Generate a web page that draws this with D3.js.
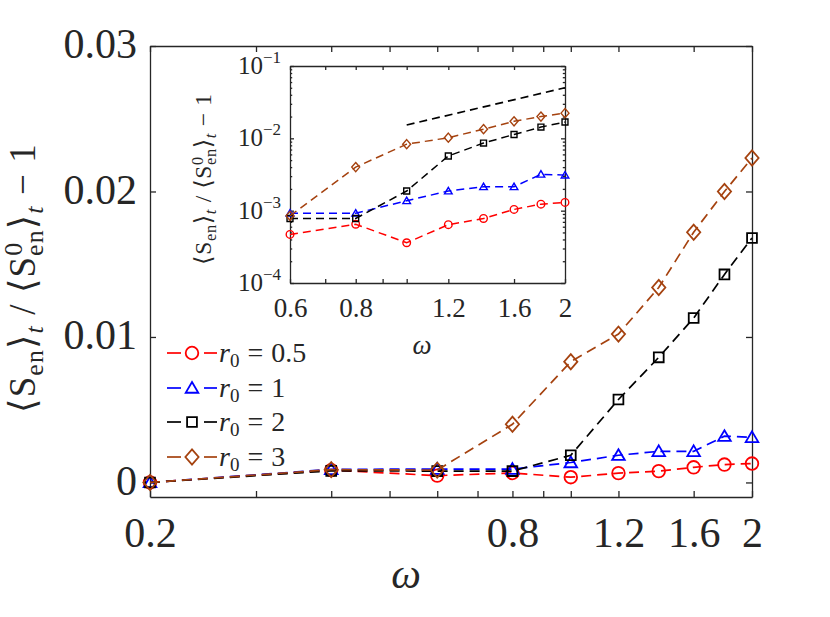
<!DOCTYPE html>
<html>
<head>
<meta charset="utf-8">
<script src="https://cdn.jsdelivr.net/npm/d3@7"></script>
<style>
  body { margin: 0; background: #fff; }
  svg { display: block; }
  text { font-family: "Liberation Serif", "DejaVu Serif", serif; fill: #262626; }
</style>
</head>
<body>
<div id="chart"></div>
<script>
// omega sweep, relative entropy change for four r0 values
const omega = [0.2, 0.4, 0.6, 0.8, 1.0, 1.2, 1.4, 1.6, 1.8, 2.0];
const r05 = [0, 0.00085, 0.00047, 0.00065, 0.00036, 0.00064, 0.00078, 0.00104, 0.00123, 0.0013];
const r1 = [0, 0.0009, 0.00092, 0.00092, 0.00137, 0.00187, 0.00214, 0.00214, 0.00318, 0.0031];
const r2 = [0, 0.0008, 0.00078, 0.00078, 0.00187, 0.0057, 0.0086, 0.0113, 0.0143, 0.0168];
const r3 = [0, 0.00088, 0.00085, 0.0040, 0.0083, 0.0102, 0.0134, 0.0172, 0.0200, 0.0223];
const seriesNames = ["0.5", "1", "2", "3"];

// reference power-law guide in the inset
const refX = [1.0, 2.0];
const refY = [0.0153, 0.050];

const mainXTicks = [0.2, 0.3, 0.4, 0.5, 0.6, 0.7, 0.8, 0.9, 1, 1.2, 1.6, 2];
const mainXLabels = [0.2, 0.8, 1.2, 1.6, 2];
const mainYTicks = [0, 0.01, 0.02, 0.03];
const insetXTicks = [0.6, 0.7, 0.8, 0.9, 1, 1.2, 1.6, 2];
const insetXLabels = [0.6, 0.8, 1.2, 1.6, 2];
const insetYExps = [-4, -3, -2, -1];

const width = 830, height = 617;
const axisColor = "#262626";

const series = [
  { name: seriesNames[0], values: r05, color: "#ff0000", marker: "circle" },
  { name: seriesNames[1], values: r1, color: "#0000ff", marker: "triangle" },
  { name: seriesNames[2], values: r2, color: "#000000", marker: "square" },
  { name: seriesNames[3], values: r3, color: "#a5420f", marker: "diamond" }
];

function markerPath(type, s) {
  if (type === "circle") {
    const r = s;
    return `M${-r},0a${r},${r} 0 1,0 ${2 * r},0a${r},${r} 0 1,0 ${-2 * r},0Z`;
  }
  if (type === "triangle") {
    return `M0,${-s * 0.95}L${s},${s * 0.75}L${-s},${s * 0.75}Z`;
  }
  if (type === "square") {
    const h = s * 0.78;
    return `M${-h},${-h}H${h}V${h}H${-h}Z`;
  }
  // diamond
  return `M0,${-s * 1.2}L${s * 1.05},0L0,${s * 1.2}L${-s * 1.05},0Z`;
}

const svg = d3.select("#chart").append("svg")
  .attr("width", width)
  .attr("height", height);

svg.append("rect").attr("width", width).attr("height", height).attr("fill", "#fff");

// ---------- main axes ----------
const mainBox = { left: 150, right: 752, top: 46, bottom: 497 };
const x = d3.scaleLog().domain([0.2, 2]).range([mainBox.left, mainBox.right]);
const y = d3.scaleLinear().domain([-0.001, 0.03]).range([mainBox.bottom, mainBox.top]);

function styleAxis(g) {
  g.attr("font-family", null).attr("font-size", null);
  g.select(".domain").attr("stroke", axisColor).attr("stroke-width", 1.3);
  g.selectAll(".tick line").attr("stroke", axisColor).attr("stroke-width", 1.3);
}

const fmt = d3.format("~g");

svg.append("g")
  .attr("transform", `translate(0,${mainBox.bottom})`)
  .call(d3.axisBottom(x).tickValues(mainXTicks).tickSize(-6).tickSizeOuter(0)
    .tickFormat(d => mainXLabels.includes(d) ? fmt(d) : ""))
  .call(styleAxis)
  .call(g => g.selectAll("text")
    .attr("y", 50).attr("dy", null)
    .attr("font-size", 42).attr("fill", axisColor));

svg.append("g")
  .attr("transform", `translate(0,${mainBox.top})`)
  .call(d3.axisTop(x).tickValues(mainXTicks).tickSize(-6).tickSizeOuter(0).tickFormat(""))
  .call(styleAxis);

svg.append("g")
  .attr("transform", `translate(${mainBox.left},0)`)
  .call(d3.axisLeft(y).tickValues(mainYTicks).tickSize(-6).tickSizeOuter(0).tickFormat(fmt))
  .call(styleAxis)
  .call(g => g.selectAll("text")
    .attr("x", -13).attr("dy", "0.28em")
    .attr("font-size", 42).attr("fill", axisColor));

svg.append("g")
  .attr("transform", `translate(${mainBox.right},0)`)
  .call(d3.axisRight(y).tickValues(mainYTicks).tickSize(-6).tickSizeOuter(0).tickFormat(""))
  .call(styleAxis);

const mainLine = d3.line().x(d => x(d[0])).y(d => y(d[1]));

series.forEach(s => {
  const pts = omega.map((w, i) => [w, s.values[i]]);
  svg.append("path")
    .attr("d", mainLine(pts))
    .attr("fill", "none")
    .attr("stroke", s.color)
    .attr("stroke-width", 1.7)
    .attr("stroke-dasharray", "10,6");
  svg.append("g").selectAll("path")
    .data(pts)
    .enter().append("path")
    .attr("transform", d => `translate(${x(d[0])},${y(d[1])})`)
    .attr("d", markerPath(s.marker, 6.3))
    .attr("fill", "none")
    .attr("stroke", s.color)
    .attr("stroke-width", 1.8);
});

// legend
const legendRows = [353, 388, 422, 457];
series.forEach((s, i) => {
  const ly = legendRows[i];
  const lg = svg.append("g");
  lg.append("line").attr("x1", 167).attr("x2", 181).attr("y1", ly).attr("y2", ly)
    .attr("stroke", s.color).attr("stroke-width", 1.7);
  lg.append("line").attr("x1", 204).attr("x2", 217).attr("y1", ly).attr("y2", ly)
    .attr("stroke", s.color).attr("stroke-width", 1.7);
  lg.append("path")
    .attr("transform", `translate(192,${ly})`)
    .attr("d", markerPath(s.marker, 6.3))
    .attr("fill", "none").attr("stroke", s.color).attr("stroke-width", 1.8);
  const t = lg.append("text").attr("x", 219).attr("y", ly + 9).attr("font-size", 28);
  t.append("tspan").attr("font-style", "italic").text("r");
  t.append("tspan").attr("font-size", 19).attr("dy", 5).text("0");
  t.append("tspan").attr("dy", -5).attr("dx", 8).text("=");
  t.append("tspan").attr("dx", 8).text(s.name);
});

// main labels
svg.append("text")
  .attr("x", 406).attr("y", 588)
  .attr("text-anchor", "middle")
  .attr("font-size", 42).attr("font-style", "italic")
  .text("ω");

function ratioLabel(sel, fs) {
  const sub = fs * 0.7;
  const dn = fs * 0.22, up = fs * 0.36;
  sel.attr("font-size", fs).attr("letter-spacing", fs * 0.03);
  sel.append("tspan").text("⟨S");
  sel.append("tspan").attr("font-size", sub).attr("dy", dn).text("en");
  sel.append("tspan").attr("dy", -dn).text("⟩");
  sel.append("tspan").attr("font-size", sub).attr("font-style", "italic").attr("dy", dn).text("t");
  sel.append("tspan").attr("dy", -dn).text(" / ⟨S");
  sel.append("tspan").attr("font-size", sub).attr("dy", -up).text("0");
  sel.append("tspan").attr("font-size", sub).attr("dx", -sub * 0.55).attr("dy", up + dn).text("en");
  sel.append("tspan").attr("dy", -dn).text("⟩");
  sel.append("tspan").attr("font-size", sub).attr("font-style", "italic").attr("dy", dn).text("t");
  sel.append("tspan").attr("dy", -dn).text(" − 1");
}

// rotated label centred on cy, baseline on bx
function rotatedLabel(bx, cy, fs) {
  const t = svg.append("text").attr("transform", `translate(${bx},${cy}) rotate(-90)`);
  ratioLabel(t, fs);
  const b = t.node().getBBox();
  t.attr("x", -(b.x + b.width / 2));
  return t;
}

rotatedLabel(35, 278, 37);

// ---------- inset ----------
const inBox = { left: 290, right: 565, top: 66, bottom: 283 };
const xi = d3.scaleLog().domain([0.6, 2]).range([inBox.left, inBox.right]);
const yi = d3.scaleLog().domain([1e-4, 1e-1]).range([inBox.bottom, inBox.top]);

svg.append("rect")
  .attr("x", inBox.left).attr("y", inBox.top)
  .attr("width", inBox.right - inBox.left).attr("height", inBox.bottom - inBox.top)
  .attr("fill", "#fff");

const minorY = [];
insetYExps.slice(0, -1).forEach(e => {
  for (let m = 2; m <= 9; m++) minorY.push(m * Math.pow(10, e));
});
const majorY = insetYExps.map(e => Math.pow(10, e));

svg.append("g")
  .attr("transform", `translate(0,${inBox.bottom})`)
  .call(d3.axisBottom(xi).tickValues(insetXTicks).tickSize(-4).tickSizeOuter(0)
    .tickFormat(d => insetXLabels.includes(d) ? fmt(d) : ""))
  .call(styleAxis)
  .call(g => g.selectAll("text")
    .attr("y", 34).attr("dy", null)
    .attr("font-size", 27).attr("fill", axisColor));

svg.append("g")
  .attr("transform", `translate(0,${inBox.top})`)
  .call(d3.axisTop(xi).tickValues(insetXTicks).tickSize(-4).tickSizeOuter(0).tickFormat(""))
  .call(styleAxis);

[[inBox.left, d3.axisLeft], [inBox.right, d3.axisRight]].forEach(([px, ax]) => {
  svg.append("g")
    .attr("transform", `translate(${px},0)`)
    .call(ax(yi).tickValues(majorY).tickSize(-4).tickSizeOuter(0).tickFormat(""))
    .call(styleAxis);
  svg.append("g")
    .attr("transform", `translate(${px},0)`)
    .call(ax(yi).tickValues(minorY).tickSize(-2.2).tickSizeOuter(0).tickFormat(""))
    .call(styleAxis)
    .call(g => g.select(".domain").remove());
});

insetYExps.forEach(e => {
  const t = svg.append("text")
    .attr("x", 281).attr("y", yi(Math.pow(10, e)) + 8)
    .attr("text-anchor", "end")
    .attr("font-size", 25);
  t.append("tspan").text("10");
  t.append("tspan").attr("font-size", 17).attr("dy", -11).text("−" + Math.abs(e));
});

const insetLine = d3.line().x(d => xi(d[0])).y(d => yi(d[1]));

series.forEach(s => {
  const pts = omega.map((w, i) => [w, s.values[i]]).filter(d => d[0] >= 0.6);
  svg.append("path")
    .attr("d", insetLine(pts))
    .attr("fill", "none")
    .attr("stroke", s.color)
    .attr("stroke-width", 1.5)
    .attr("stroke-dasharray", "8,5");
  svg.append("g").selectAll("path")
    .data(pts)
    .enter().append("path")
    .attr("transform", d => `translate(${xi(d[0])},${yi(d[1])})`)
    .attr("d", markerPath(s.marker, 3.8))
    .attr("fill", "none")
    .attr("stroke", s.color)
    .attr("stroke-width", 1.4);
});

svg.append("path")
  .attr("d", insetLine(refX.map((v, i) => [v, refY[i]])))
  .attr("fill", "none")
  .attr("stroke", "#000")
  .attr("stroke-width", 1.7)
  .attr("stroke-dasharray", "8,5");

svg.append("text")
  .attr("x", 422).attr("y", 354)
  .attr("text-anchor", "middle")
  .attr("font-size", 27).attr("font-style", "italic")
  .text("ω");

rotatedLabel(211, 179, 23.5);
</script>
</body>
</html>
